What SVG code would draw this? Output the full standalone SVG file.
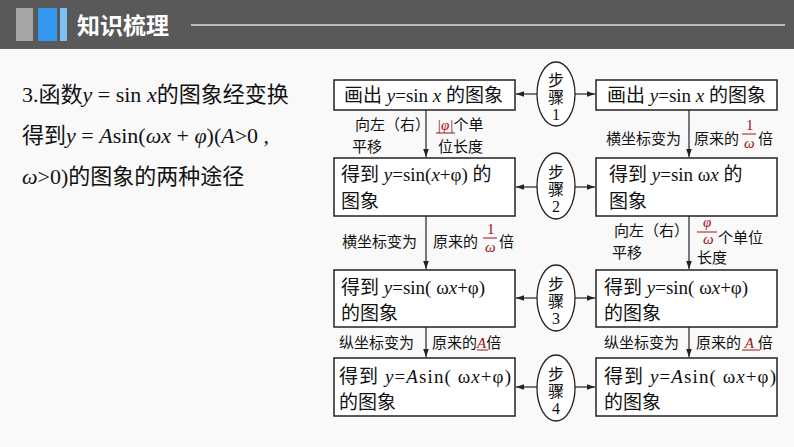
<svg xmlns="http://www.w3.org/2000/svg" width="794" height="447" viewBox="0 0 794 447">
<defs>
<marker id="ar" viewBox="0 0 10 10" refX="10" refY="5" markerWidth="7" markerHeight="7" orient="auto"><path d="M0,1.5 L10,5 L0,8.5 z" fill="#222"/></marker>
<style>
.bx{fill:#fff;stroke:#222;stroke-width:1.5}
.el{fill:#fff;stroke:#222;stroke-width:1.3}
.t{font-family:"Liberation Serif","Noto Sans CJK SC",serif;font-size:19px;fill:#111}
.st{font-family:"Liberation Serif","Noto Sans CJK SC",serif;font-size:16px;fill:#111}
.s{font-family:"Liberation Serif","Noto Sans CJK SC",serif;font-size:15px;fill:#111}
.m{font-style:italic}
.r{fill:#a01010;font-style:italic}
.n{fill:#a01010}
.big{font-family:"Liberation Serif","Noto Sans CJK SC",serif;font-size:22px;fill:#111}
.ln{stroke:#222;stroke-width:1.2;fill:none;marker-end:url(#ar)}
.u{stroke:#a01010;stroke-width:1}
</style>
</defs>
<rect width="794" height="447" fill="#f9f9f9"/>
<g id="header">
<rect width="794" height="49" fill="#595959"/>
<rect x="16" y="8" width="17" height="33" fill="#a6a6a6"/>
<rect x="38" y="8" width="19" height="33" fill="#3399ee"/>
<rect x="60" y="8" width="7" height="33" fill="#7fc1f5"/>
<text x="77" y="34" font-family="'Noto Sans CJK SC',sans-serif" font-weight="bold" font-size="23" fill="#fff">知识梳理</text>
<line x1="191" y1="25" x2="785" y2="25" stroke="#ddd" stroke-width="1.5"/>
</g>
<g id="intro">
<text x="22" y="102" class="big">3.函数<tspan class="m">y</tspan> = sin <tspan class="m">x</tspan>的图象经变换</text>
<text x="22" y="143" class="big">得到<tspan class="m">y</tspan> = <tspan class="m">A</tspan>sin(<tspan class="m">ωx</tspan> + <tspan class="m">φ</tspan>)(<tspan class="m">A</tspan>&gt;0 ,</text>
<text x="22" y="184" class="big"><tspan class="m">ω</tspan>&gt;0)的图象的两种途径</text>
</g>
<g id="L1"><rect class="bx" x="334" y="80" width="181" height="30"/><text class="t" x="344" y="102">画出 <tspan class="m">y</tspan>=sin <tspan class="m">x</tspan> 的图象</text></g>
<g id="L2"><rect class="bx" x="334" y="158" width="181" height="58"/><text class="t" x="341" y="181">得到 <tspan class="m">y</tspan>=sin(<tspan class="m">x</tspan>+φ) 的</text><text class="t" x="341" y="208">图象</text></g>
<g id="L3"><rect class="bx" x="334" y="270" width="181" height="57"/><text class="t" x="341" y="294">得到 <tspan class="m">y</tspan>=sin( ω<tspan class="m">x</tspan>+φ)</text><text class="t" x="341" y="320">的图象</text></g>
<g id="L4"><rect class="bx" x="334" y="358" width="181" height="58"/><text class="t" x="339" y="383" textLength="172">得到 <tspan class="m">y</tspan>=<tspan class="m">A</tspan>sin( ω<tspan class="m">x</tspan>+φ)</text><text class="t" x="339" y="409">的图象</text></g>
<g id="R1"><rect class="bx" x="596" y="80" width="181" height="30"/><text class="t" x="607" y="102">画出 <tspan class="m">y</tspan>=sin <tspan class="m">x</tspan> 的图象</text></g>
<g id="R2"><rect class="bx" x="596" y="158" width="181" height="58"/><text class="t" x="609" y="181">得到 <tspan class="m">y</tspan>=sin  ω<tspan class="m">x</tspan> 的</text><text class="t" x="609" y="208">图象</text></g>
<g id="R3"><rect class="bx" x="596" y="270" width="181" height="57"/><text class="t" x="604" y="294">得到 <tspan class="m">y</tspan>=sin( ω<tspan class="m">x</tspan>+φ)</text><text class="t" x="604" y="320">的图象</text></g>
<g id="R4"><rect class="bx" x="596" y="358" width="181" height="58"/><text class="t" x="604" y="383" textLength="172">得到 <tspan class="m">y</tspan>=<tspan class="m">A</tspan>sin( ω<tspan class="m">x</tspan>+φ)</text><text class="t" x="604" y="409">的图象</text></g>
<g id="S1"><ellipse class="el" cx="556" cy="94" rx="19" ry="32"/><text class="st" x="556" y="86" text-anchor="middle">步</text><text class="st" x="556" y="103" text-anchor="middle">骤</text><text class="st" x="556" y="120" text-anchor="middle">1</text></g>
<g id="S2"><ellipse class="el" cx="556" cy="186" rx="19" ry="33"/><text class="st" x="556" y="178" text-anchor="middle">步</text><text class="st" x="556" y="195" text-anchor="middle">骤</text><text class="st" x="556" y="212" text-anchor="middle">2</text></g>
<g id="S3"><ellipse class="el" cx="556" cy="298" rx="19" ry="33"/><text class="st" x="556" y="290" text-anchor="middle">步</text><text class="st" x="556" y="307" text-anchor="middle">骤</text><text class="st" x="556" y="324" text-anchor="middle">3</text></g>
<g id="S4"><ellipse class="el" cx="556" cy="388" rx="19" ry="33"/><text class="st" x="556" y="380" text-anchor="middle">步</text><text class="st" x="556" y="397" text-anchor="middle">骤</text><text class="st" x="556" y="414" text-anchor="middle">4</text></g>
<g id="connectors">
<path class="ln" d="M537,94 H516"/><path class="ln" d="M575,94 H595"/>
<path class="ln" d="M537,187 H516"/><path class="ln" d="M575,187 H595"/>
<path class="ln" d="M537,298 H516"/><path class="ln" d="M575,298 H595"/>
<path class="ln" d="M537,387 H516"/><path class="ln" d="M575,387 H595"/>
<path class="ln" d="M426,110 V157"/><path class="ln" d="M426,216 V269"/><path class="ln" d="M426,327 V357"/>
<path class="ln" d="M689,110 V157"/><path class="ln" d="M689,216 V269"/><path class="ln" d="M689,327 V357"/>
</g>
<g id="labels">
<text class="s" x="355" y="130">向左（右）</text><text class="s" x="352" y="152">平移</text>
<text class="s" x="437" y="130"><tspan class="r">|φ|</tspan>个单</text><line class="u" x1="436" y1="133" x2="455" y2="133"/><text class="s" x="438" y="152">位长度</text>
<text class="s" x="606" y="144">横坐标变为</text><text class="s" x="694" y="144">原来的</text>
<text class="s n" x="746" y="130">1</text><line class="u" x1="742" y1="134" x2="756" y2="134"/><text class="s r" x="744" y="148">ω</text><text class="s" x="758" y="144">倍</text>
<text class="s" x="342" y="247">横坐标变为</text><text class="s" x="433" y="247">原来的</text>
<text class="s n" x="487" y="234">1</text><line class="u" x1="483" y1="238" x2="497" y2="238"/><text class="s r" x="485" y="252">ω</text><text class="s" x="499" y="247">倍</text>
<text class="s" x="614" y="236">向左（右）</text><text class="s" x="612" y="258">平移</text>
<text class="s r" x="703" y="227">φ</text><line class="u" x1="697" y1="232" x2="717" y2="232"/><text class="s r" x="703" y="244">ω</text><text class="s" x="718" y="243">个单位</text><text class="s" x="697" y="263">长度</text>
<text class="s" x="339" y="348">纵坐标变为</text><text class="s" x="432" y="348">原来的<tspan class="r">A</tspan>倍</text><line class="u" x1="477" y1="350" x2="488" y2="350"/>
<text class="s" x="604" y="348">纵坐标变为</text><text class="s" x="696" y="348">原来的 <tspan class="r">A</tspan> 倍</text><line class="u" x1="742" y1="350" x2="760" y2="350"/>
</g>
</svg>
